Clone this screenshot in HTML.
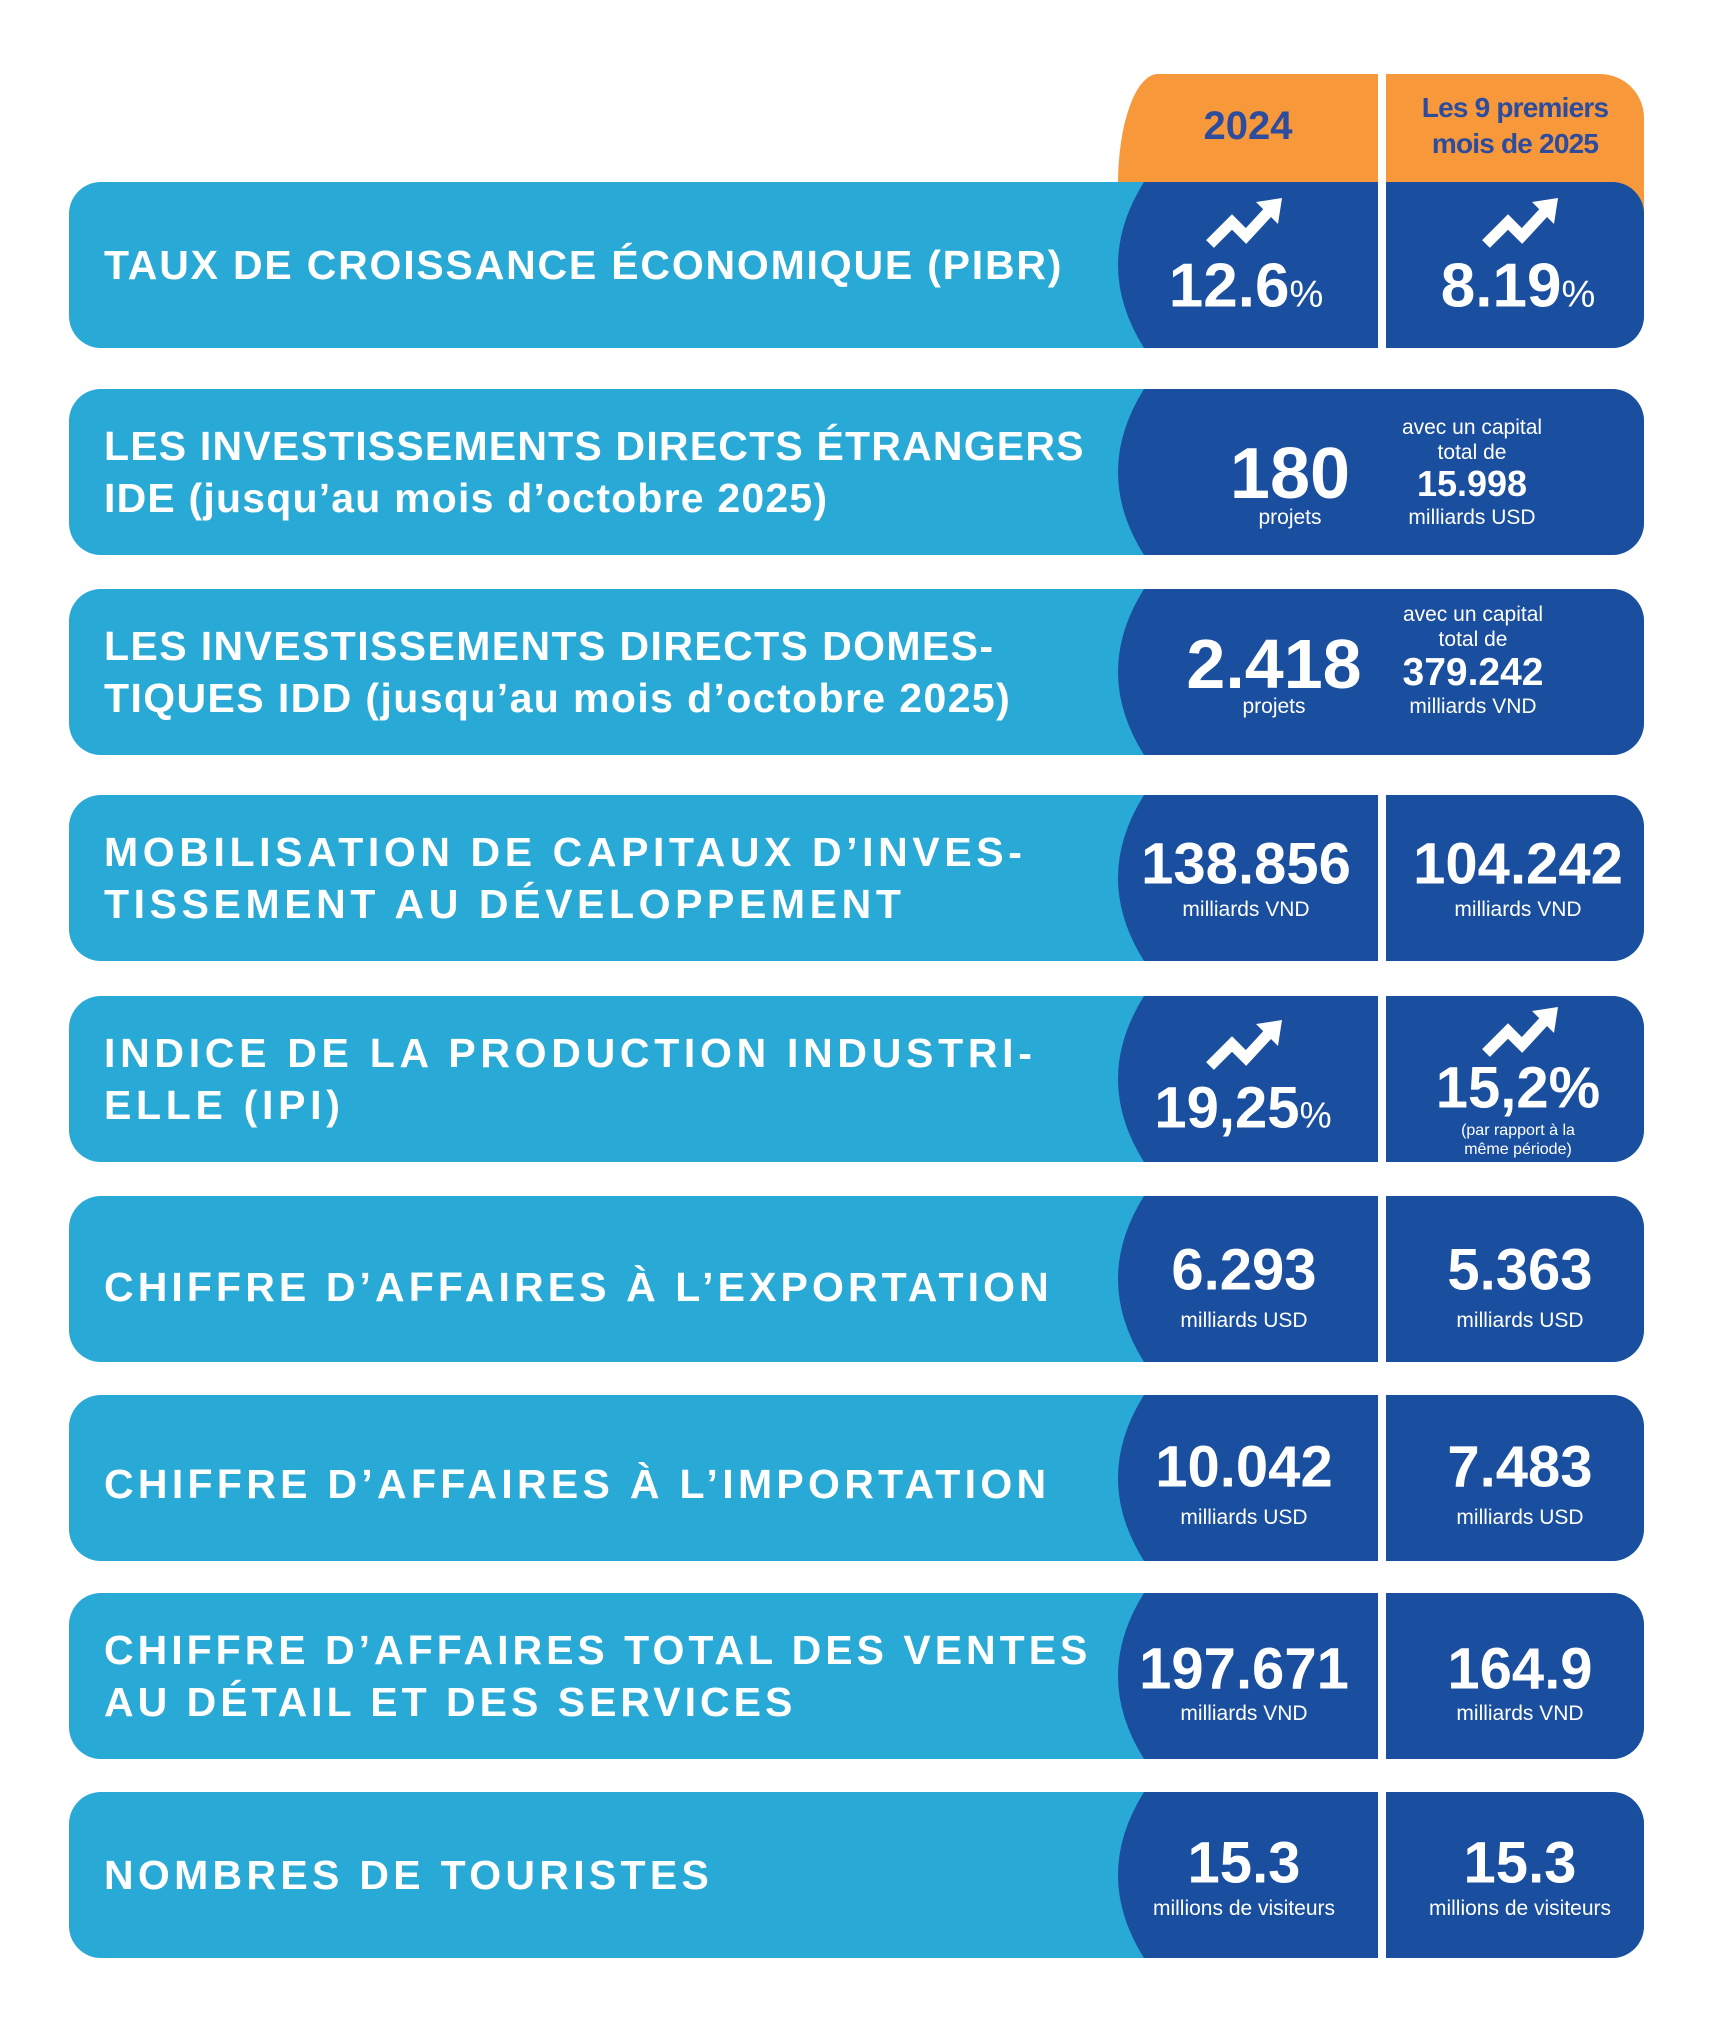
<!DOCTYPE html>
<html><head><meta charset="utf-8"><style>
body{margin:0;width:1714px;height:2034px;background:#fff;position:relative;overflow:hidden;font-family:"Liberation Sans",sans-serif}
.row{position:absolute;left:69px;width:1575px;height:166px;background:#29a9d5;border-radius:32px;overflow:hidden}
.row svg{position:absolute;left:0;top:0}
.t{position:absolute;left:35px;top:0;height:166px;display:flex;align-items:center;color:#fff;font-weight:bold;font-size:41px;line-height:52px;letter-spacing:2.8px;width:1100px}
.c{position:absolute;transform:translate(-50%,-50%);color:#fff;white-space:nowrap;text-align:center}
.v{font-weight:bold;font-size:58px;letter-spacing:0px}
.s{font-size:21px}
.tab{position:absolute;background:#f7993a;color:#2d4c9e;font-weight:bold;display:flex;align-items:center;justify-content:center;text-align:center}
</style></head><body>
<div class="tab" style="left:1118px;top:74px;width:260px;height:140px;border-top-left-radius:40px 110px;font-size:40px;align-items:flex-start;padding-top:30px;box-sizing:border-box">2024</div>
<div class="tab" style="left:1386px;top:74px;width:258px;height:160px;border-top-right-radius:44px;font-size:28px;line-height:36px;letter-spacing:-0.8px;align-items:flex-start;padding-top:16px;box-sizing:border-box">Les 9 premiers<br>mois de 2025</div>

<div class="row" style="top:182px"><svg width="1575" height="166"><path d="M1075 0 Q1023 83 1075 166 L1575 166 L1575 0Z" fill="#1a4e9f"/><rect x="1309" y="0" width="8" height="166" fill="#fff"/></svg><div class="t" style="letter-spacing:1.8px">TAUX DE CROISSANCE ÉCONOMIQUE (PIBR)</div></div>
<div class="row" style="top:389px"><svg width="1575" height="166"><path d="M1075 0 Q1023 83 1075 166 L1575 166 L1575 0Z" fill="#1a4e9f"/></svg><div class="t" style="letter-spacing:1.2px">LES INVESTISSEMENTS DIRECTS ÉTRANGERS<br>IDE (jusqu’au mois d’octobre 2025)</div></div>
<div class="row" style="top:589px"><svg width="1575" height="166"><path d="M1075 0 Q1023 83 1075 166 L1575 166 L1575 0Z" fill="#1a4e9f"/></svg><div class="t" style="letter-spacing:1.4px">LES INVESTISSEMENTS DIRECTS DOMES-<br>TIQUES IDD (jusqu’au mois d’octobre 2025)</div></div>
<div class="row" style="top:795px"><svg width="1575" height="166"><path d="M1075 0 Q1023 83 1075 166 L1575 166 L1575 0Z" fill="#1a4e9f"/><rect x="1309" y="0" width="8" height="166" fill="#fff"/></svg><div class="t" style="letter-spacing:4.6px">MOBILISATION DE CAPITAUX D’INVES-<br>TISSEMENT AU DÉVELOPPEMENT</div></div>
<div class="row" style="top:996px"><svg width="1575" height="166"><path d="M1075 0 Q1023 83 1075 166 L1575 166 L1575 0Z" fill="#1a4e9f"/><rect x="1309" y="0" width="8" height="166" fill="#fff"/></svg><div class="t" style="letter-spacing:4.7px">INDICE DE LA PRODUCTION INDUSTRI-<br>ELLE (IPI)</div></div>
<div class="row" style="top:1196px"><svg width="1575" height="166"><path d="M1075 0 Q1023 83 1075 166 L1575 166 L1575 0Z" fill="#1a4e9f"/><rect x="1309" y="0" width="8" height="166" fill="#fff"/></svg><div class="t" style="padding-top:8px;letter-spacing:4.1px">CHIFFRE D’AFFAIRES À L’EXPORTATION</div></div>
<div class="row" style="top:1395px"><svg width="1575" height="166"><path d="M1075 0 Q1023 83 1075 166 L1575 166 L1575 0Z" fill="#1a4e9f"/><rect x="1309" y="0" width="8" height="166" fill="#fff"/></svg><div class="t" style="padding-top:6px;letter-spacing:4.3px">CHIFFRE D’AFFAIRES À L’IMPORTATION</div></div>
<div class="row" style="top:1593px"><svg width="1575" height="166"><path d="M1075 0 Q1023 83 1075 166 L1575 166 L1575 0Z" fill="#1a4e9f"/><rect x="1309" y="0" width="8" height="166" fill="#fff"/></svg><div class="t" style="letter-spacing:4px">CHIFFRE D’AFFAIRES TOTAL DES VENTES<br>AU DÉTAIL ET DES SERVICES</div></div>
<div class="row" style="top:1792px"><svg width="1575" height="166"><path d="M1075 0 Q1023 83 1075 166 L1575 166 L1575 0Z" fill="#1a4e9f"/><rect x="1309" y="0" width="8" height="166" fill="#fff"/></svg><div class="t" style="letter-spacing:4.3px">NOMBRES DE TOURISTES</div></div>

<svg style="position:absolute;left:0;top:0" width="1714" height="2034">
<defs><g id="ar"><polyline points="-34,20 -12,-2 2,12 26,-14" fill="none" stroke="#fff" stroke-width="11" stroke-linejoin="miter"/><polygon points="38,-26 12,-22 34,0" fill="#fff"/></g></defs>
<use href="#ar" x="1244" y="224"/><use href="#ar" x="1520" y="224"/>
<use href="#ar" x="1244" y="1046"/><use href="#ar" x="1520" y="1033"/>
</svg>

<div class="c v" style="left:1246px;top:286px;font-size:62px">12.6<span style="font-weight:normal;font-size:38px">%</span></div>
<div class="c v" style="left:1518px;top:286px;font-size:62px">8.19<span style="font-weight:normal;font-size:38px">%</span></div>

<div class="c v" style="left:1290px;top:474px;font-size:72px">180</div>
<div class="c s" style="left:1290px;top:518px">projets</div>
<div class="c s" style="left:1472px;top:428px">avec un capital</div>
<div class="c s" style="left:1472px;top:453px">total de</div>
<div class="c v" style="left:1472px;top:484px;font-size:36px">15.998</div>
<div class="c s" style="left:1472px;top:518px">milliards USD</div>

<div class="c v" style="left:1274px;top:664px;font-size:70px">2.418</div>
<div class="c s" style="left:1274px;top:707px">projets</div>
<div class="c s" style="left:1473px;top:615px">avec un capital</div>
<div class="c s" style="left:1473px;top:640px">total de</div>
<div class="c v" style="left:1473px;top:673px;font-size:39px">379.242</div>
<div class="c s" style="left:1473px;top:707px">milliards VND</div>

<div class="c v" style="left:1246px;top:864px">138.856</div>
<div class="c s" style="left:1246px;top:910px">milliards VND</div>
<div class="c v" style="left:1518px;top:864px">104.242</div>
<div class="c s" style="left:1518px;top:910px">milliards VND</div>

<div class="c v" style="left:1243px;top:1108px">19,25<span style="font-weight:normal;font-size:36px">%</span></div>
<div class="c v" style="left:1518px;top:1088px">15,2%</div>
<div class="c" style="left:1518px;top:1131px;font-size:16px">(par rapport à la</div>
<div class="c" style="left:1518px;top:1150px;font-size:16px">même période)</div>

<div class="c v" style="left:1244px;top:1270px">6.293</div>
<div class="c s" style="left:1244px;top:1321px">milliards USD</div>
<div class="c v" style="left:1520px;top:1270px">5.363</div>
<div class="c s" style="left:1520px;top:1321px">milliards USD</div>

<div class="c v" style="left:1244px;top:1467px">10.042</div>
<div class="c s" style="left:1244px;top:1518px">milliards USD</div>
<div class="c v" style="left:1520px;top:1467px">7.483</div>
<div class="c s" style="left:1520px;top:1518px">milliards USD</div>

<div class="c v" style="left:1244px;top:1669px">197.671</div>
<div class="c s" style="left:1244px;top:1714px">milliards VND</div>
<div class="c v" style="left:1520px;top:1669px">164.9</div>
<div class="c s" style="left:1520px;top:1714px">milliards VND</div>

<div class="c v" style="left:1244px;top:1863px">15.3</div>
<div class="c s" style="left:1244px;top:1909px">millions de visiteurs</div>
<div class="c v" style="left:1520px;top:1863px">15.3</div>
<div class="c s" style="left:1520px;top:1909px">millions de visiteurs</div>
</body></html>
